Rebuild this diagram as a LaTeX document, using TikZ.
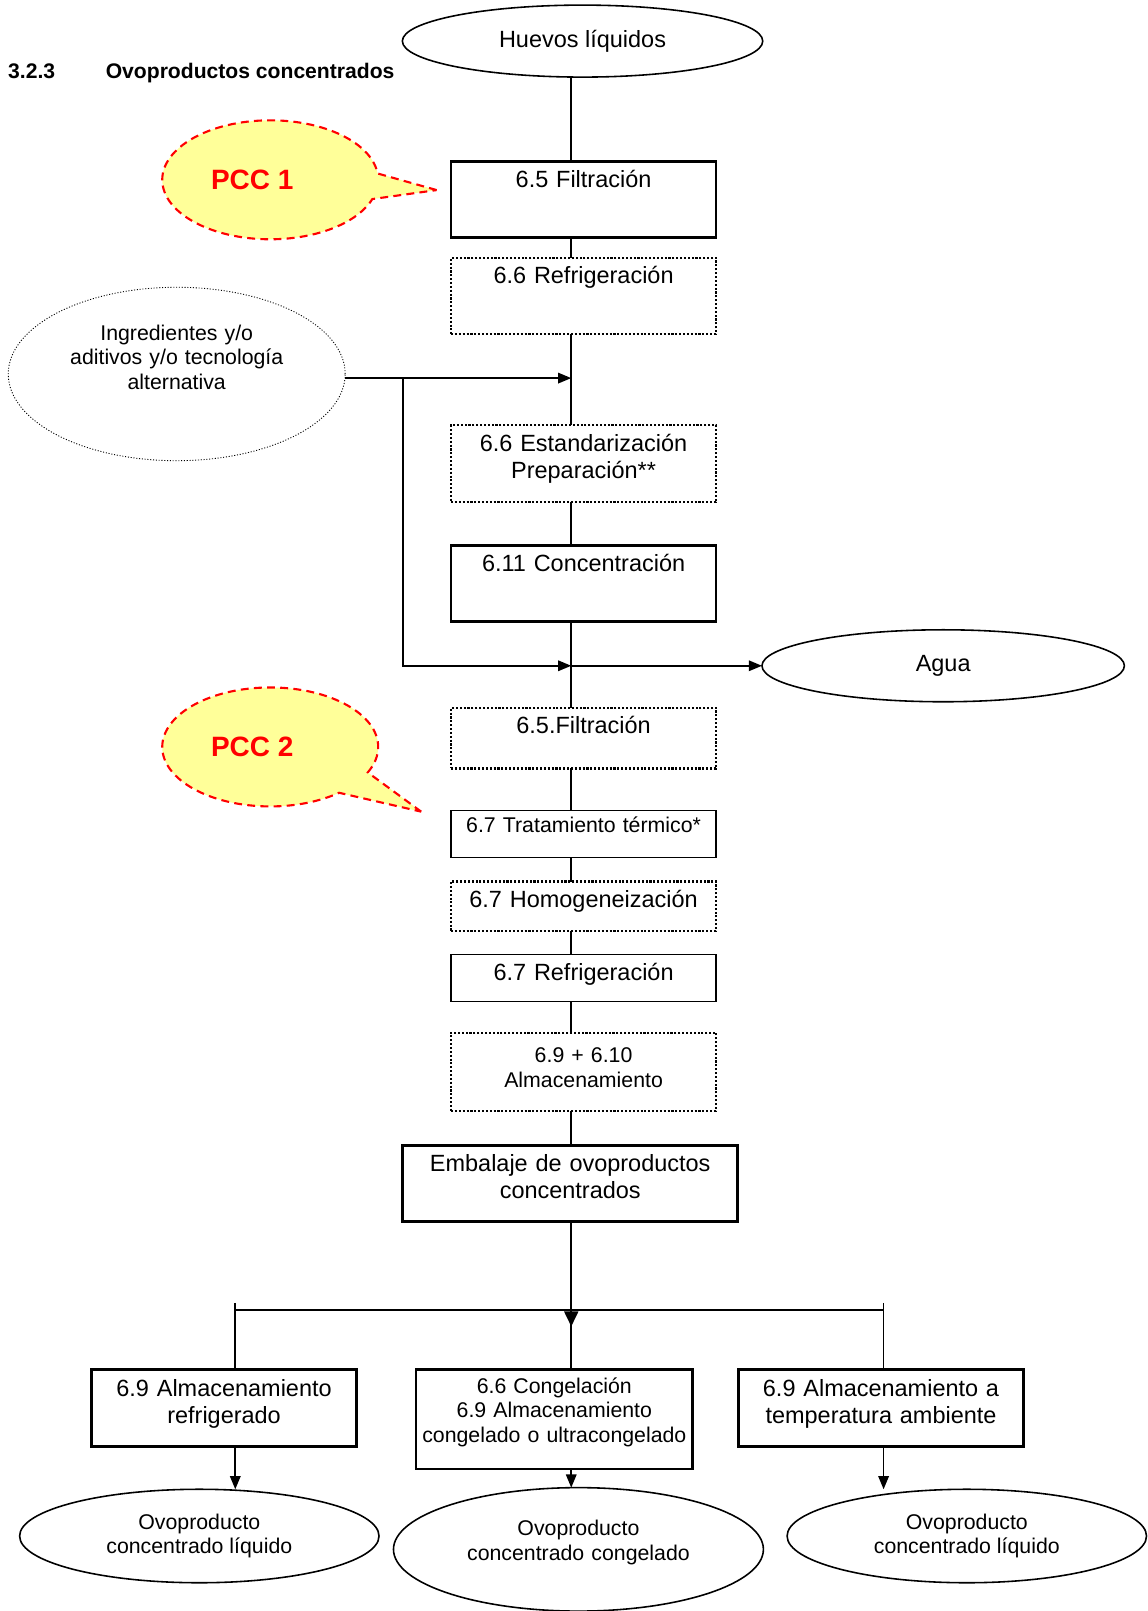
\documentclass[tikz,border=0pt]{standalone}
\usepackage{fontspec}
\setmainfont{Liberation Sans}
\usetikzlibrary{shapes,shapes.geometric,shapes.callouts}
\usetikzlibrary{arrows.meta,positioning}
\newcommand{\bigtxt}{\fontsize{13.36}{15.72}\selectfont}
\newcommand{\smalltxt}{\fontsize{12.12}{14.08}\selectfont}
\definecolor{pccfill}{HTML}{FFFF99}

\begin{document}
\begin{tikzpicture}
[x=0.020548cm,y=-0.020548cm,>={Triangle[length=7.5pt,width=6pt]},line width=0.9pt,
 every node/.style={outer sep=0pt,inner sep=0pt},
 stepbox/.style={draw,minimum width=5.3cm,text width=5.14cm,align=center,font=\bigtxt,text height=0.514cm},
 solidbox/.style={line width=1.5pt},
 thinbox/.style={line width=0.7pt},
 dotbox/.style={line width=1.2pt,dash pattern=on 1.2pt off 1pt},
 prod/.style={draw,ellipse,align=center,font=\smalltxt},
 pcc/.style={ellipse callout,draw=red,fill=pccfill,line width=1.2pt,dash pattern=on 4.5pt off 3pt,
   callout pointer arc=25,minimum width=4.32cm,minimum height=2.38cm,
   font=\fontsize{15.92}{18.5}\selectfont\bfseries,text=red}]
  \useasboundingbox (0,0) rectangle (1117.3,1568);
  \node[anchor=west,font=\fontsize{12.02}{14.4}\selectfont\bfseries] (t) at (8,71) {3.2.3\hspace{28.8pt}Ovoproductos concentrados};
  \node[prod,minimum width=7.21cm,minimum height=1.44cm,font=\bigtxt] (0) at (567,40) {Huevos líquidos};
  \coordinate (ax) at (556,0);
%
  \node[stepbox,solidbox,text depth=1.007cm] (1) at (568,194) {6.5 Filtración};
  \node[stepbox,dotbox,text depth=1.007cm] (1a) [below=0.411cm of 1] {6.6 Refrigeración};
  \node[stepbox,dotbox,text depth=1.027cm] (1b) [below=1.829cm of 1a] {6.6 Estandarización\\Preparación**};
  \node[stepbox,solidbox,text depth=1.007cm] (1c) [below=0.863cm of 1b] {6.11 Concentración};
  \node[stepbox,dotbox,text depth=0.699cm] (1d) [below=1.726cm of 1c] {6.5.Filtración};
  \node[stepbox,thinbox,font=\smalltxt,text height=0.432cm,text depth=0.514cm] (1e) [below=0.842cm of 1d] {6.7 Tratamiento térmico*};
  \node[stepbox,dotbox,text depth=0.473cm] (1f) [below=0.473cm of 1e] {6.7 Homogeneización};
  \node[stepbox,thinbox,text depth=0.432cm] (1g) [below=0.473cm of 1f] {6.7 Refrigeración};
  \node[stepbox,dotbox,font=\smalltxt,text height=0.596cm,text depth=0.966cm] (1h) [below=0.616cm of 1g] {6.9 + 6.10\\Almacenamiento};
  \node[stepbox,solidbox,minimum width=6.7cm,text width=6.47cm,text depth=1.007cm] (1i) [below=0.699cm of 1h,xshift=-0.267cm] {Embalaje de ovoproductos\\concentrados};
%
  \node[prod,line width=0.5pt,dash pattern=on 0.6pt off 1pt,minimum width=6.74cm,minimum height=3.47cm,
    text width=4.52cm,text height=0.411cm,text depth=1.767cm] (2) at (172,364) {Ingredientes y/o\\aditivos y/o tecnología\\alternativa};
  \node[prod,minimum width=7.25cm,minimum height=1.44cm,font=\bigtxt] (3) at (918,648) {Agua};
  \coordinate (k1) at (556,368);
  \coordinate (k3) at (392,368);
  \coordinate (k2) at (556,648);
%
  \node[pcc,callout absolute pointer={(425,185)}] (p1) at (263,175) {PCC 1\hspace*{0.72cm}};
  \node[pcc,callout absolute pointer={(410,790)}] (p2) at (263,727) {PCC 2\hspace*{0.72cm}};
%
  \node[stepbox,solidbox,minimum width=5.53cm,text width=5.34cm,font=\smalltxt,text height=0.473cm,text depth=1.52cm] (4b) [below=2.959cm of 1i,xshift=-0.318cm] {6.6 Congelación\\6.9 Almacenamiento\\congelado o ultracongelado};
  \node[stepbox,solidbox,text height=0.534cm,text depth=1.007cm] (4a) [left=1.192cm of 4b.north west,anchor=north east] {6.9 Almacenamiento\\refrigerado};
  \node[stepbox,solidbox,minimum width=5.69cm,text width=5.45cm,text height=0.534cm,text depth=1.007cm] (4c) [right=0.925cm of 4b.north east,anchor=north west] {6.9 Almacenamiento a\\temperatura ambiente};
  \node[prod,minimum width=7.19cm,minimum height=1.87cm] (5a) at (194,1495) {Ovoproducto\\concentrado líquido};
  \node[prod,minimum width=7.4cm,minimum height=2.47cm,text width=4.6cm,text height=0.34cm,text depth=0.9cm] (5b) at (563,1508) {Ovoproducto\\concentrado congelado};
  \node[prod,minimum width=7.19cm,minimum height=1.87cm] (5c) at (941,1495) {Ovoproducto\\concentrado líquido};
  \coordinate (jb) at (556,1275);
  \coordinate (j) at (556,1291);
  \coordinate (jl) at (229,1268);
  \coordinate (jr) at (860,1268);
%
  \draw (0.south -| ax) -- (1.north -| ax);
  \draw (1.south -| ax) -- (1a.north -| ax);
  \draw (1a.south -| ax) -- (1b.north -| ax);
  \draw (1b.south -| ax) -- (1c.north -| ax);
  \draw (1c.south -| ax) -- (1d.north -| ax);
  \draw (1d.south -| ax) -- (1e.north -| ax);
  \draw (1e.south -| ax) -- (1f.north -| ax);
  \draw (1f.south -| ax) -- (1g.north -| ax);
  \draw (1g.south -| ax) -- (1h.north -| ax);
  \draw (1h.south -| ax) -- (1i.north -| ax);
  \draw[->] (2.east |- k1) -- (k1);
  \draw[->] (k3) |- (k2);
  \draw[->] (k2) -- (3);
%
  \draw[line width=1.5pt] (jl |- jb) -- (jr |- jb);
  \draw[-{Triangle[length=8.5pt,width=8pt]}] (1i.south -| ax) -- (j);
  \draw (jl) -- (4a.north -| jl);
  \draw (jb) -- (4b.north -| ax);
  \draw (jr) -- (4c.north -| jr);
  \draw[->] (4a.south -| jl) -- (5a.north -| jl);
  \draw[->] (4b.south -| ax) -- (5b.north -| ax);
  \draw[->] (4c.south -| jr) -- (5c.north -| jr);
\end{tikzpicture}
\end{document}
